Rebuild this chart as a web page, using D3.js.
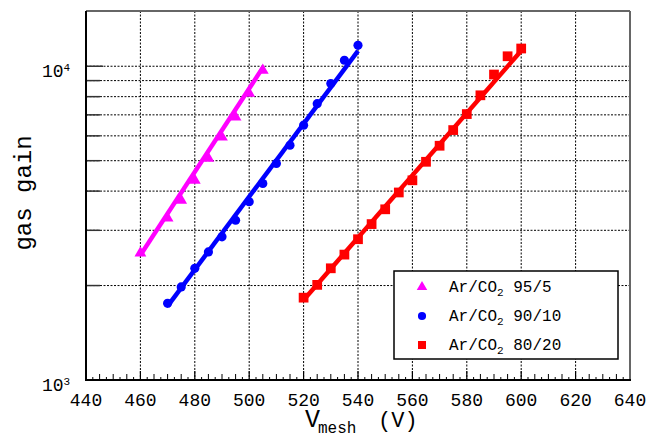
<!DOCTYPE html>
<html>
<head>
<meta charset="utf-8">
<title>gas gain vs Vmesh</title>
<script src="https://cdn.jsdelivr.net/npm/d3@7/dist/d3.min.js"></script>
<style>
  body { margin: 0; background: #fff; }
  text { font-family: "Liberation Mono", "DejaVu Sans Mono", monospace; fill: #000; }
</style>
</head>
<body>
<div id="chart"></div>
<script>
// --- data ---
const v955 = [460, 470, 475, 480, 485, 490, 495, 500, 505];
const g955 = [2540, 3280, 3740, 4330, 5090, 5940, 6880, 8200, 9710];

const v9010 = [470, 475, 480, 485, 490, 495, 500, 505, 510, 515, 520, 525, 530, 535, 540];
const g9010 = [1755, 1980, 2270, 2560, 2860, 3230, 3700, 4230, 4900, 5600, 6490, 7600, 8810, 10450, 11660];

const v8020 = [520, 525, 530, 535, 540, 545, 550, 555, 560, 565, 570, 575, 580, 585, 590, 595, 600];
const g8020 = [1830, 2010, 2270, 2510, 2810, 3140, 3500, 3960, 4330, 4960, 5580, 6260, 7040, 8080, 9410, 10760, 11390];

// fit lines (end points)
const fit955 = [[460, 2500], [505, 9900]];
const fit9010 = [[470, 1720], [540, 11200]];
const fit8020 = [[520, 1800], [600, 11200]];

const xTicks = [440, 460, 480, 500, 520, 540, 560, 580, 600, 620, 640];
const yGrid = [2000, 3000, 4000, 5000, 6000, 7000, 8000, 9000, 10000];

const series = [
  { label: "95/5", color: "#ff00ff", shape: "triangle", v: v955, g: g955, fit: fit955 },
  { label: "90/10", color: "#0000ff", shape: "circle", v: v9010, g: g9010, fit: fit9010 },
  { label: "80/20", color: "#ff0000", shape: "square", v: v8020, g: g8020, fit: fit8020 }
];

const W = 649, H = 434;
const pLeft = 86, pRight = 630, pTop = 11, pBottom = 380;

const x = d3.scaleLinear().domain([440, 640]).range([pLeft, pRight]);
const y = d3.scaleLog().domain([1000, 15000]).range([pBottom, pTop]);

const svg = d3.select("#chart").append("svg")
  .attr("width", W).attr("height", H);

// grid
const grid = svg.append("g").attr("stroke", "#000").attr("stroke-width", 1)
  .attr("stroke-dasharray", "2,1.5");
grid.selectAll(".gx").data(xTicks.slice(1, -1)).enter().append("line")
  .attr("x1", d => x(d)).attr("x2", d => x(d))
  .attr("y1", pTop).attr("y2", pBottom);
grid.selectAll(".gy").data(yGrid).enter().append("line")
  .attr("x1", pLeft).attr("x2", pRight)
  .attr("y1", d => y(d)).attr("y2", d => y(d));

// x minor ticks
const xMinor = d3.range(440, 640.01, 2.5).filter(d => d % 20 !== 0);
svg.append("g").attr("stroke", "#000").attr("stroke-width", 1)
  .selectAll("line").data(xMinor).enter().append("line")
  .attr("x1", d => x(d)).attr("x2", d => x(d))
  .attr("y1", pBottom).attr("y2", d => pBottom - (d % 5 === 0 ? 6 : 3));
svg.append("g").attr("stroke", "#000").attr("stroke-width", 1.2)
  .selectAll("line").data(xTicks).enter().append("line")
  .attr("x1", d => x(d)).attr("x2", d => x(d))
  .attr("y1", pBottom).attr("y2", pBottom - 9);

// y ticks
svg.append("g").attr("stroke", "#333").attr("stroke-width", 1.5)
  .selectAll("line").data([1000].concat(yGrid)).enter().append("line")
  .attr("x1", pLeft).attr("x2", d => pLeft + (d === 10000 || d === 1000 ? 17 : 14))
  .attr("y1", d => y(d)).attr("y2", d => y(d));

// fit lines
const line = d3.line().x(d => x(d[0])).y(d => y(d[1]));
series.forEach(s => {
  svg.append("path").datum(s.fit)
    .attr("d", line)
    .attr("fill", "none")
    .attr("stroke", s.color)
    .attr("stroke-width", 4.5);
});

// markers
const sym = {
  triangle: d3.symbol().type(d3.symbolTriangle).size(60),
  circle: d3.symbol().type(d3.symbolCircle).size(66),
  square: d3.symbol().type(d3.symbolSquare).size(95)
};
const legSym = {
  triangle: d3.symbol().type(d3.symbolTriangle).size(48),
  circle: d3.symbol().type(d3.symbolCircle).size(52),
  square: d3.symbol().type(d3.symbolSquare).size(64)
};
series.forEach(s => {
  svg.append("g").selectAll("path").data(s.v).enter().append("path")
    .attr("d", sym[s.shape])
    .attr("transform", (d, i) => `translate(${x(d)},${y(s.g[i])})`)
    .attr("fill", s.color);
});

// frame
svg.append("line").attr("x1", pLeft).attr("x2", pRight).attr("y1", pTop).attr("y2", pTop)
  .attr("stroke", "#666").attr("stroke-width", 2);
svg.append("line").attr("x1", pRight).attr("x2", pRight).attr("y1", pTop).attr("y2", pBottom)
  .attr("stroke", "#666").attr("stroke-width", 2);
svg.append("line").attr("x1", pLeft).attr("x2", pLeft).attr("y1", pTop).attr("y2", pBottom + 1)
  .attr("stroke", "#000").attr("stroke-width", 2);
svg.append("line").attr("x1", pLeft - 1).attr("x2", pRight + 1).attr("y1", pBottom).attr("y2", pBottom)
  .attr("stroke", "#000").attr("stroke-width", 2);

// x tick labels
svg.append("g").selectAll("text").data(xTicks).enter().append("text")
  .attr("x", d => x(d)).attr("y", 406)
  .attr("text-anchor", "middle").attr("font-size", 18)
  .text(d => d);

// y tick labels
[[10000, "4"], [1000, "3"]].forEach(([v, e]) => {
  const t = svg.append("text").attr("x", 42).attr("y", y(v) + 11).attr("font-size", 18);
  t.append("tspan").text("10");
  t.append("tspan").attr("font-size", 11).attr("dy", -6).text(e);
});

// axis titles
svg.append("text")
  .attr("transform", "translate(31,193) rotate(-90)")
  .attr("text-anchor", "middle").attr("font-size", 24)
  .text("gas gain");

const xt = svg.append("text").attr("x", 305).attr("y", 427);
xt.append("tspan").attr("font-size", 25).text("V");
xt.append("tspan").attr("x", 318).attr("y", 433).attr("font-size", 16).text("mesh");
xt.append("tspan").attr("x", 378).attr("y", 427).attr("font-size", 22).text("(V)");

// legend
const lg = svg.append("g");
lg.append("rect").attr("x", 394).attr("y", 271).attr("width", 224).attr("height", 88)
  .attr("fill", "#fff").attr("stroke", "#000").attr("stroke-width", 1.5);
const rowsY = [287, 316, 345];
series.forEach((s, i) => {
  lg.append("path").attr("d", legSym[s.shape])
    .attr("transform", `translate(422,${rowsY[i]})`)
    .attr("fill", s.color);
  const t = lg.append("text").attr("x", 449).attr("y", rowsY[i] + 5).attr("font-size", 16);
  t.append("tspan").text("Ar/CO");
  t.append("tspan").attr("font-size", 11).attr("dy", 4).text("2");
  t.append("tspan").attr("dy", -4).text(" " + s.label);
});
</script>
</body>
</html>
